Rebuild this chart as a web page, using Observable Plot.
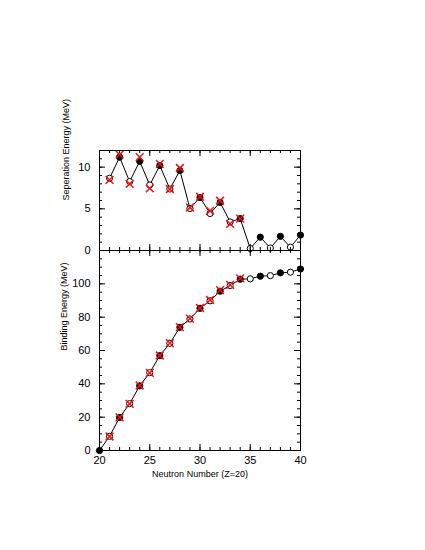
<!DOCTYPE html>
<html>
<head>
<meta charset="utf-8">
<script src="https://cdn.jsdelivr.net/npm/d3@7"></script>
<script src="https://cdn.jsdelivr.net/npm/@observablehq/plot@0.6"></script>
<style>
  html, body { margin: 0; padding: 0; background: white; }
  #wrap { position: relative; width: 425px; height: 550px; font-family: "Liberation Sans", Arial, sans-serif; }
  #wrap > div { position: absolute; left: 0; }
  svg { overflow: visible; }
</style>
</head>
<body>
<div id="wrap"><div id="top"></div><div id="bottom"></div></div>
<script>
// Neutron numbers
const neutrons = [20,21,22,23,24,25,26,27,28,29,30,31,32,33,34,35,36,37,38,39,40];
// Model separation energies (MeV), N = 21..40
const sepModel = [8.67,11.2,8.27,10.7,7.86,10.2,7.38,9.6,5.04,6.37,4.44,5.77,3.43,3.83,0.24,1.6,0.3,1.7,0.4,1.85];
// Experimental separation energies (MeV), N = 21..34
const sepExp = [8.47,11.5,8.0,11.2,7.46,10.4,7.38,9.9,5.16,6.45,4.76,5.97,3.2,3.83];
// Model binding energies (MeV), N = 20..40
const bindModel = [0,8.5,19.8,28.1,38.8,46.7,56.9,64.3,73.9,78.9,85.3,89.8,95.6,99.0,102.8,103.0,104.6,104.9,106.6,107.0,108.9];
// Experimental binding energies (MeV), N = 21..34
const bindExp = [8.4,19.9,28.0,39.0,46.6,57.0,64.4,74.0,79.1,85.5,90.3,96.2,99.4,103.3];

const xTicksMajor = [20,25,30,35,40];
const xTicksMinor = d3.range(20,41,1);
const sepTicksMajor = [0,5,10];
const sepTicksMinor = d3.range(0,13,1);
const bindTicksMajor = [0,20,40,60,80,100,120];
const bindTicksMinor = d3.range(0,121,5);

const labelSep = "Seperation Energy (MeV)";
const labelBind = "Binding Energy (MeV)";
const labelX = "Neutron Number (Z=20)";

const sepModelData = sepModel.map((v,i)=>({N: neutrons[i+1], v, even: neutrons[i+1]%2===0}));
const sepExpData = sepExp.map((v,i)=>({N: neutrons[i+1], v}));
const bindModelData = bindModel.map((v,i)=>({N: neutrons[i], v, even: neutrons[i]%2===0}));
const bindExpData = bindExp.map((v,i)=>({N: neutrons[i+1], v}));

const W = 425, ML = 99, MR = 125;
const PW = W - ML - MR;
const FONT = "Liberation Sans, Arial, Helvetica, sans-serif";

function tickMarks(ph, xMaj, xMin, yMaj, yMin) {
  const maj = 6, min = 3;
  return [
    Plot.tickX(xMin, {x: d=>d, insetTop: ph-min, stroke:"black"}),
    Plot.tickX(xMaj, {x: d=>d, insetTop: ph-maj, stroke:"black"}),
    Plot.tickX(xMin, {x: d=>d, insetBottom: ph-min, stroke:"black"}),
    Plot.tickX(xMaj, {x: d=>d, insetBottom: ph-maj, stroke:"black"}),
    Plot.tickY(yMin, {y: d=>d, insetRight: PW-min, stroke:"black"}),
    Plot.tickY(yMaj, {y: d=>d, insetRight: PW-maj, stroke:"black"}),
    Plot.tickY(yMin, {y: d=>d, insetLeft: PW-min, stroke:"black"}),
    Plot.tickY(yMaj, {y: d=>d, insetLeft: PW-maj, stroke:"black"})
  ];
}

function seriesMarks(model, exp) {
  return [
    Plot.line(model, {x:"N", y:"v", stroke:"black", strokeWidth:1}),
    Plot.dot(model.filter(d=>!d.even), {x:"N", y:"v", r:3.1, fill:"white", stroke:"black", strokeWidth:1}),
    Plot.dot(model.filter(d=>d.even), {x:"N", y:"v", r:3.1, fill:"black", stroke:"black", strokeWidth:1}),
    Plot.dot(exp, {x:"N", y:"v", symbol:"times", r:3.6, stroke:"#ee1111", strokeWidth:1.5})
  ];
}

const topPH = 100;
const topPlot = Plot.plot({
  width: W, height: 250,
  marginTop: 150, marginBottom: 0, marginLeft: ML, marginRight: MR,
  style: {fontFamily: FONT, overflow: "visible", background: "transparent"},
  x: {domain: [20,40]},
  y: {domain: [0,12]},
  marks: [
    ...seriesMarks(sepModelData, sepExpData),
    ...tickMarks(topPH, xTicksMajor, xTicksMinor, sepTicksMajor, sepTicksMinor),
    Plot.frame({stroke:"black"}),
    Plot.axisY({ticks: sepTicksMajor, tickSize: 0, tickPadding: 9, fontSize: 11, label: null, tickFormat: d=>d}),
    Plot.axisX({ticks: [], label: null, tickSize: 0}),
    Plot.text([labelSep], {frameAnchor: "left", dx: -33, rotate: -90, fontSize: 9, fill:"black"})
  ]
});
document.getElementById("top").style.top = "0px";
document.getElementById("top").appendChild(topPlot);

const botPH = 200;
const botPlot = Plot.plot({
  width: W, height: 300,
  marginTop: 0, marginBottom: 100, marginLeft: ML, marginRight: MR,
  style: {fontFamily: FONT, overflow: "visible", background: "transparent"},
  x: {domain: [20,40]},
  y: {domain: [0,120]},
  marks: [
    ...seriesMarks(bindModelData, bindExpData),
    ...tickMarks(botPH, xTicksMajor, xTicksMinor, bindTicksMajor, bindTicksMinor),
    Plot.frame({stroke:"black"}),
    Plot.axisY({ticks: bindTicksMajor.filter(d=>d<=100), tickSize: 0, tickPadding: 9, fontSize: 11, label: null, tickFormat: d=>d}),
    Plot.axisX({ticks: xTicksMajor, tickSize: 0, tickPadding: 6, fontSize: 11, label: null, tickFormat: d=>d}),
    Plot.text([labelBind], {frameAnchor: "left", dx: -35, rotate: -90, fontSize: 9, fill:"black"}),
    Plot.text([labelX], {frameAnchor: "bottom", dy: 26, fontSize: 9, fill:"black"})
  ]
});
document.getElementById("bottom").style.top = "250px";
document.getElementById("bottom").appendChild(botPlot);
</script>
</body>
</html>
